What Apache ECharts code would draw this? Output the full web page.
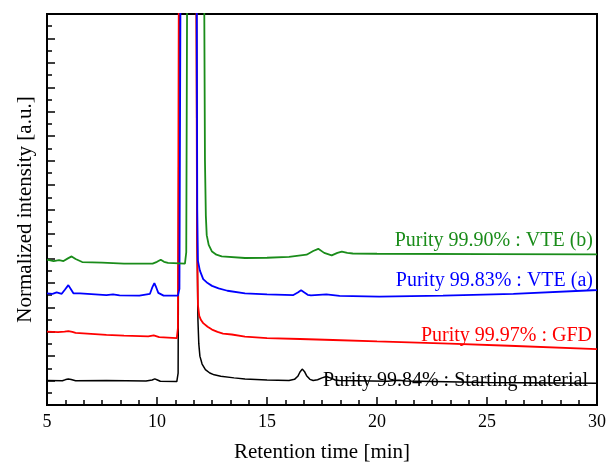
<!DOCTYPE html>
<html>
<head>
<meta charset="utf-8">
<script src="https://cdn.jsdelivr.net/npm/echarts@6/dist/echarts.min.js"></script>
<style>html,body{margin:0;padding:0;background:#fff;}#chart{width:615px;height:468px;}</style>
</head>
<body>
<div id="chart"></div>
<script>
// Retention time [min] ticks
const xTicks = [5, 10, 15, 20, 25, 30];

// Traces: [retention time (min), normalized intensity (a.u., offset)]
const startingMaterial = [
  [5.0, 2.0], [5.7, 1.98], [5.85, 2.08], [5.97, 2.13], [6.1, 2.08], [6.3, 1.98], [7.7, 2.0], [9.5, 1.96],
  [9.78, 2.05], [9.9, 2.14], [10.02, 2.05], [10.15, 1.94],
  [10.9, 1.92], [10.96, 2.6], [11.02, 40], [11.4, 60], [11.78, 40], [11.82, 14], [11.86, 7], [11.9, 5],
  [11.95, 4.0], [12.05, 3.35], [12.2, 2.9], [12.4, 2.62], [12.6, 2.47], [12.9, 2.35], [13.5, 2.22],
  [14.0, 2.13], [15.0, 2.05], [16.0, 2.0], [16.25, 2.1], [16.4, 2.35], [16.5, 2.7], [16.6, 2.94],
  [16.7, 2.75], [16.8, 2.4], [16.95, 2.1], [17.1, 2.0], [17.3, 2.07], [17.5, 2.22], [17.7, 2.33],
  [17.9, 2.2], [18.1, 2.05], [18.3, 2.0], [20.5, 1.95], [20.8, 2.0], [21.0, 2.03], [21.3, 1.96],
  [25.0, 1.85], [30.0, 1.78]
];
const gfd = [
  [5.0, 6.01], [5.5, 5.97], [5.8, 6.0], [5.97, 6.05], [6.15, 5.98], [6.3, 5.9], [7.7, 5.74], [8.5, 5.68],
  [9.6, 5.61], [9.85, 5.7], [10.1, 5.55], [10.9, 5.48], [10.95, 6.3], [11.0, 40], [11.4, 60],
  [11.78, 40], [11.82, 14], [11.86, 8.2], [11.92, 7.3], [12.0, 6.95], [12.1, 6.7], [12.3, 6.4],
  [12.5, 6.17], [12.75, 5.98], [13.0, 5.85], [13.4, 5.77], [14.0, 5.6], [15.0, 5.47], [16.5, 5.4],
  [18.0, 5.32], [20.0, 5.2], [23.3, 5.02], [26.0, 4.85], [30.0, 4.58]
];
const vteA = [
  [5.0, 9.14], [5.25, 9.1], [5.44, 9.22], [5.67, 9.1], [5.82, 9.45], [5.97, 9.81], [6.08, 9.5],
  [6.2, 9.14], [6.5, 9.14], [7.7, 9.0], [8.0, 9.05], [8.3, 8.97], [9.2, 8.95], [9.68, 9.1],
  [9.78, 9.6], [9.88, 9.97], [9.97, 9.6], [10.06, 9.18], [10.3, 8.95],
  [10.95, 8.95], [11.02, 9.5], [11.08, 40], [11.45, 60], [11.8, 40], [11.83, 16], [11.86, 11.8],
  [11.95, 11.0], [12.1, 10.3], [12.3, 9.98], [12.5, 9.75], [12.8, 9.55], [13.2, 9.35], [14.0, 9.14],
  [15.0, 9.05], [16.2, 9.0], [16.4, 9.2], [16.55, 9.39], [16.7, 9.2], [16.85, 9.02], [17.0, 8.97],
  [17.7, 9.05], [18.3, 8.93], [20.1, 8.87], [23.0, 8.95], [26.2, 9.09], [29.8, 9.39], [30.0, 9.4]
];
const vteB = [
  [5.0, 11.9], [5.3, 11.78], [5.55, 11.85], [5.75, 11.78], [5.95, 12.0], [6.12, 12.16], [6.3, 11.95],
  [6.6, 11.7], [7.5, 11.65], [8.5, 11.57], [9.8, 11.57], [10.0, 11.72], [10.17, 11.89], [10.32, 11.72],
  [10.5, 11.63], [11.27, 11.57], [11.33, 12.5], [11.38, 40], [11.75, 60], [12.13, 40], [12.18, 20],
  [12.22, 15.5], [12.26, 13.9], [12.35, 13.1], [12.5, 12.56], [12.7, 12.3], [12.94, 12.16], [14.0, 12.03],
  [15.0, 12.05], [16.0, 12.13], [16.8, 12.3], [17.1, 12.6], [17.33, 12.78], [17.6, 12.45], [17.94, 12.24],
  [18.2, 12.45], [18.4, 12.56], [18.65, 12.45], [18.9, 12.4], [20.0, 12.38], [25.0, 12.35], [30.0, 12.33]
];

const seriesNames = ['Purity 99.84% : Starting material', 'Purity 99.97% : GFD', 'Purity 99.83% : VTE (a)', 'Purity 99.90% : VTE (b)'];

const chart = echarts.init(document.getElementById('chart'));
const FONT = '"Liberation Serif", "Times New Roman", serif';
const colors = ['#000000', '#ff0000', '#0000ff', '#1a8c1a'];
const traces = [startingMaterial, gfd, vteA, vteB];
const labelPos = [[588, 381], [592, 336], [593, 281], [593, 241]];

chart.setOption({
  animation: false,
  backgroundColor: '#fff',
  grid: { left: 47, right: 18, top: 14, bottom: 55, show: true, borderColor: '#000', borderWidth: 2, backgroundColor: 'transparent' },
  xAxis: {
    type: 'value', min: xTicks[0], max: xTicks[xTicks.length - 1], interval: 5,
    name: 'Retention time [min]', nameLocation: 'middle', nameGap: 37,
    nameTextStyle: { fontFamily: FONT, fontSize: 21, color: '#000' },
    axisLine: { show: true, lineStyle: { color: '#000', width: 2 } },
    axisTick: { show: true, inside: true, length: 8, lineStyle: { color: '#000', width: 1.5 } },
    minorTick: { show: true, splitNumber: 6, length: 5, lineStyle: { color: '#000', width: 1.5 } },
    axisLabel: { fontFamily: FONT, fontSize: 18, color: '#000', margin: 8 },
    splitLine: { show: false }, minorSplitLine: { show: false }
  },
  yAxis: {
    type: 'value', min: 0, max: 32, interval: 2,
    name: 'Normalized intensity [a.u.]', nameLocation: 'middle', nameGap: 11, nameRotate: 90,
    nameTextStyle: { fontFamily: FONT, fontSize: 21, color: '#000' },
    axisLine: { show: true, lineStyle: { color: '#000', width: 2 } },
    axisTick: { show: true, inside: true, length: 8, lineStyle: { color: '#000', width: 1.5 } },
    minorTick: { show: true, splitNumber: 2, length: 5, lineStyle: { color: '#000', width: 1.5 } },
    axisLabel: { show: false },
    splitLine: { show: false }, minorSplitLine: { show: false }
  },
  series: traces.map((d, i) => ({
    name: seriesNames[i], type: 'line', data: d, symbol: 'none', clip: true,
    smooth: false,
    lineStyle: { color: colors[i], width: i === 0 ? 1.5 : 1.8 },
    z: 2 + i
  })),
  graphic: seriesNames.map((t, i) => ({
    type: 'text', x: labelPos[i][0], y: labelPos[i][1],
    style: { text: t, fill: colors[i], font: '20px ' + FONT, textAlign: 'right', textVerticalAlign: 'middle' },
    z: 10
  }))
});
</script>
</body>
</html>
